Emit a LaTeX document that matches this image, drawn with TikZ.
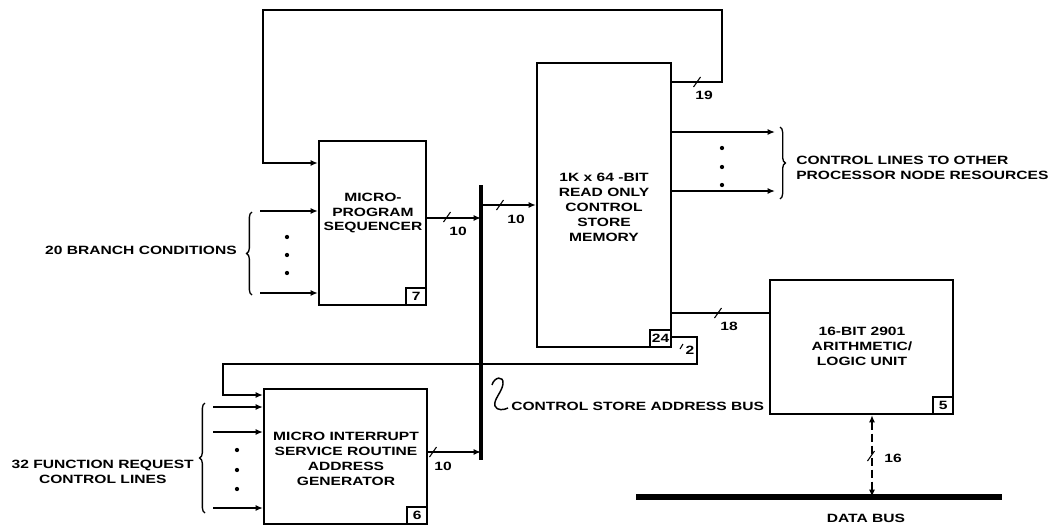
\documentclass[tikz,border=0pt]{standalone}
\usepackage{fontspec}
\newfontfamily\diagfont[FakeStretch=1.3]{Liberation Sans}
\usetikzlibrary{arrows.meta,decorations.pathreplacing}

\tikzset{
  lbl/.style={font=\diagfont\bfseries\fontsize{9}{11.2}\selectfont, inner sep=0pt},
  blockbox/.style={draw, line width=1.6pt, inner sep=0pt},
  numbox/.style={draw, line width=1.2pt, font=\diagfont\bfseries\fontsize{9}{10}\selectfont,
    minimum width=15pt, minimum height=13pt, inner sep=1.5pt, anchor=south east},
  wire/.style={line width=1.4pt},
  arr/.style={wire, -{Latex[length=5.5pt,width=4.5pt]}},
  brc/.style={decorate, decoration={brace, amplitude=4pt}, line width=1pt},
}
\newcommand{\bmark}[1]{\draw[line width=0.8pt, shift={(#1)}] (-3.5,5) -- (3.5,-5);}

\begin{document}
\begin{tikzpicture}[x=0.75pt,y=-0.75pt]
  \useasboundingbox (0,0) rectangle (1057,529);

  % Blocks
  \node[blockbox, minimum width=80.25pt, minimum height=123pt] (seq) at (372.5,223) {};
  \node[lbl, align=center] (seqtxt) at (373,213) {MICRO-\\PROGRAM\\SEQUENCER};
  \node[numbox] (seqnum) at (seq.south east) {7};

  \node[blockbox, minimum width=100.5pt, minimum height=213pt] (rom) at (604,205) {};
  \node[lbl, align=center] (romtxt) at (604,207) {1K x 64 -BIT\\READ ONLY\\CONTROL\\STORE\\MEMORY};
  \node[numbox] (romnum) at (rom.south east) {24};

  \node[blockbox, minimum width=137.25pt, minimum height=100.5pt] (alu) at (861.5,347) {};
  \node[lbl, align=center] (alutxt) at (862,346) {16-BIT 2901\\ARITHMETIC/\\LOGIC UNIT};
  \node[numbox] (alunum) at (alu.south east) {5};

  \node[blockbox, minimum width=122.25pt, minimum height=101.25pt] (misr) at (345.5,456.5) {};
  \node[lbl, align=center] (misrtxt) at (346,459) {MICRO INTERRUPT\\SERVICE ROUTINE\\ADDRESS\\GENERATOR};
  \node[numbox] (misrnum) at (misr.south east) {6};

  % Feedback from control store to sequencer
  \coordinate (c19) at (722,82);
  \coordinate (fbL) at (263,163);
  \draw[arr] (c19 -| rom.east) -| (722,10) -| (fbL) -- (fbL -| seq.west);
  \bmark{697,82}
  \node[lbl] (w19) at (704,95) {19};

  % Branch condition inputs
  \foreach \y [count=\i] in {211,293} {
    \coordinate (br\i) at (260,\y);
    \draw[arr] (br\i) -- (br\i -| seq.west);
  }
  \foreach \y in {237,255,273} \fill (287,\y) circle (1.6pt);
  \draw[brc] (252,295) -- (252,212);
  \node[lbl, anchor=east] (brtxt) at (237,250) {20 BRANCH CONDITIONS};

  % Control store address bus
  \coordinate (bustop) at (481,185);
  \coordinate (busbot) at (481,460);
  \draw[line width=2.6pt] (bustop) -- (busbot);
  \coordinate (sq) at (481,218);
  \draw[arr] (sq -| seq.east) -- (sq);
  \bmark{447,217}
  \node[lbl] (w10a) at (458,231) {10};
  \coordinate (ri) at (481,205);
  \draw[arr] (ri) -- (ri -| rom.west);
  \bmark{500,205}
  \node[lbl] (w10b) at (516,219) {10};
  \coordinate (mo) at (481,452);
  \draw[arr] (mo -| misr.east) -- (mo);
  \bmark{433,452}
  \node[lbl] (w10c) at (443,466) {10};
  \draw[line width=1.1pt] (492,385) .. controls (494,377) and (504,375) .. (503,384)
    .. controls (502,392) and (493,400) .. (495,406) .. controls (497,411) and (504,410) .. (508,408);
  \node[lbl, anchor=west] (bustxt) at (511,406) {CONTROL STORE ADDRESS BUS};

  % Control store outputs
  \foreach \y [count=\i] in {132,191} {
    \coordinate (co\i) at (775,\y);
    \draw[arr] (co\i -| rom.east) -- (co\i);
  }
  \foreach \y in {148,167,185} \fill (722,\y) circle (1.6pt);
  \draw[brc] (780,127) -- (780,199);
  \node[lbl, anchor=west, align=left] (cotxt) at (796,168) {CONTROL LINES TO OTHER\\PROCESSOR NODE RESOURCES};

  \coordinate (ra) at (720,313);
  \draw[wire] (ra -| rom.east) -- (ra -| alu.west);
  \bmark{718,313}
  \node[lbl] (w18) at (729,326) {18};

  % Two lines back to the interrupt generator
  \coordinate (t1) at (697,337);
  \coordinate (t2) at (223,364);
  \coordinate (t3) at (223,395);
  \draw[arr] (t1 -| rom.east) -- (t1) |- (t2) -- (t3) -- (t3 -| misr.west);
  \draw[line width=0.8pt] (680,349) -- (683,344);
  \node[lbl] (w2) at (690,350) {2};

  % Function request inputs
  \foreach \y [count=\i] in {407,432,508} {
    \coordinate (fr\i) at (213,\y);
    \draw[arr] (fr\i) -- (fr\i -| misr.west);
  }
  \foreach \y in {450,470,489} \fill (237,\y) circle (1.6pt);
  \draw[brc] (205,513) -- (205,403);
  \node[lbl, anchor=east, align=center] (frtxt) at (194,472) {32 FUNCTION REQUEST\\CONTROL LINES};

  % Data bus
  \coordinate (dbL) at (636,497);
  \coordinate (dbR) at (1002,497);
  \draw[line width=3.8pt] (dbL) -- (dbR);
  \node[lbl] (dbtxt) at (866,518) {DATA BUS};
  \coordinate (dx) at (872,497);
  \draw[wire, dash pattern=on 6pt off 3pt, {Latex[length=5.5pt,width=4.5pt]}-{Latex[length=5.5pt,width=4.5pt]}] (dx |- alu.south) -- (dx);
  \bmark{871,456}
  \node[lbl] (w16) at (893,458) {16};
\end{tikzpicture}
\end{document}
